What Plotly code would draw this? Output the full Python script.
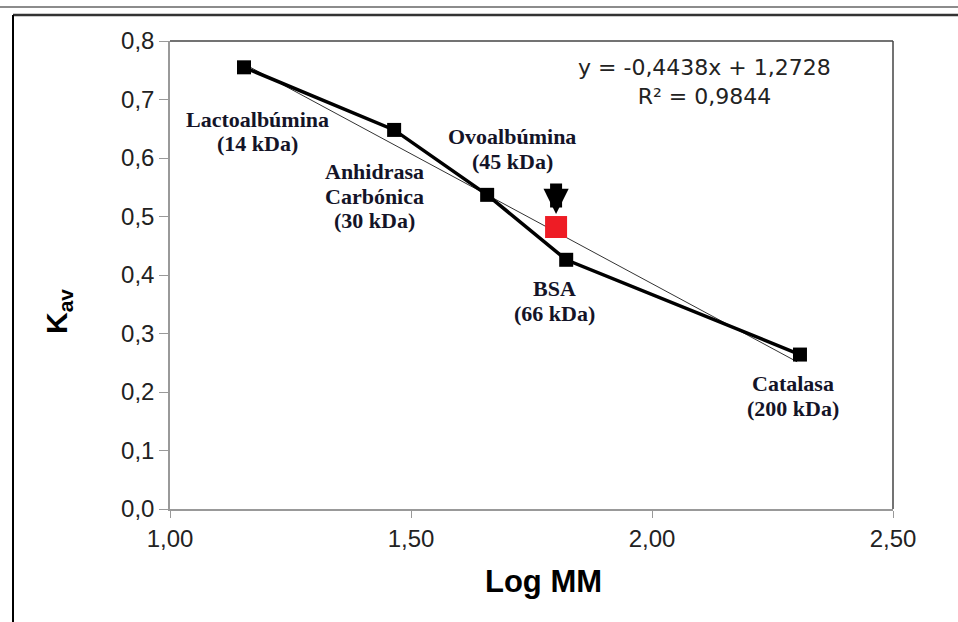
import numpy as np
import plotly.graph_objects as go

# Data
protein_lines = [["Lactoalbúmina", "(14 kDa)"],
                 ["Anhidrasa", "Carbónica", "(30 kDa)"],
                 ["Ovoalbúmina", "(45 kDa)"],
                 ["BSA", "(66 kDa)"],
                 ["Catalasa", "(200 kDa)"]]
log_mm = [1.1535, 1.465, 1.658, 1.822, 2.307]
kav = [0.755, 0.648, 0.537, 0.426, 0.264]
unknown_x = [1.801]
unknown_y = [0.482]
slope = -0.4438
intercept = 1.2728
trend_range = [1.146, 2.301]
x_ticks = [1.0, 1.5, 2.0, 2.5]
x_tick_text = ["1,00", "1,50", "2,00", "2,50"]
y_ticks = [0.0, 0.1, 0.2, 0.3, 0.4, 0.5, 0.6, 0.7, 0.8]
y_tick_text = ["0,0", "0,1", "0,2", "0,3", "0,4", "0,5", "0,6", "0,7", "0,8"]
# label offsets in pixels: (dx, dy of first line below the point)
label_dx = [14, -20, 25, -12, -7]
label_dy = [52, 42, -58, 29, 29]
line_gap = 24.5

fig = go.Figure()

trend_x = np.array(trend_range)
fig.add_trace(go.Scatter(x=trend_x, y=slope * trend_x + intercept, mode="lines",
                         line=dict(color="#333333", width=1), hoverinfo="skip"))
fig.add_trace(go.Scatter(x=log_mm, y=kav, mode="lines+markers",
                         line=dict(color="black", width=3.5),
                         marker=dict(symbol="square", size=14, color="black")))
fig.add_trace(go.Scatter(x=unknown_x, y=unknown_y, mode="markers",
                         marker=dict(symbol="square", size=22, color="#ee1c25")))

label_font = dict(family="Liberation Serif, Times New Roman, serif", size=22, color="#141428")
for lines, x, y, dx, dy in zip(protein_lines, log_mm, kav, label_dx, label_dy):
    for i, line in enumerate(lines):
        fig.add_annotation(x=x, y=y, xref="x", yref="y", text="<b>" + line + "</b>",
                           showarrow=False, xshift=dx, yshift=-(dy + i * line_gap),
                           font=label_font, align="center")

# arrow pointing at unknown
fig.add_annotation(x=unknown_x[0], y=unknown_y[0], xref="x", yref="y", ax=0, ay=-32,
                   yshift=13, showarrow=True, arrowhead=2, arrowsize=0.42, arrowwidth=12,
                   arrowcolor="black", text="")

fig.add_annotation(x=(704 - 170) / 723, y=(509 - 82) / 468, xref="paper", yref="paper",
                   xanchor="center", yanchor="middle",
                   text="y = -0,4438x + 1,2728<br>R² = 0,9844", showarrow=False,
                   font=dict(family="DejaVu Sans, Arial, sans-serif", size=22, color="#222"),
                   align="center")

# axis titles
fig.add_annotation(x=(543 - 170) / 723, y=(509 - 581) / 468, xref="paper", yref="paper",
                   xanchor="center", yanchor="middle",
                   text="<b>Log MM</b>", showarrow=False,
                   font=dict(family="Liberation Sans, Arial, sans-serif", size=31, color="black"))
fig.add_annotation(x=(58 - 170) / 723, y=(509 - 312) / 468, xref="paper", yref="paper",
                   xanchor="center", yanchor="middle",
                   text="<b>K<sub>av</sub></b>", showarrow=False, textangle=-90,
                   font=dict(family="Liberation Sans, Arial, sans-serif", size=30, color="black"))

# plot border top/right (darker)
fig.add_shape(type="line", xref="paper", yref="paper", x0=0, x1=1, y0=1, y1=1,
              line=dict(color="#444", width=1.5))
fig.add_shape(type="line", xref="paper", yref="paper", x0=1, x1=1, y0=0, y1=1,
              line=dict(color="#444", width=1.5))

# outer frame lines
fig.add_shape(type="line", xref="paper", yref="paper", x0=-0.3, x1=1.2, y0=(509 - 7) / 468,
              y1=(509 - 7) / 468, line=dict(color="#666", width=1.5))
fig.add_shape(type="line", xref="paper", yref="paper", x0=(13 - 170) / 723, x1=1.2,
              y0=(509 - 15) / 468, y1=(509 - 15) / 468, line=dict(color="#333", width=2.5))
fig.add_shape(type="line", xref="paper", yref="paper", x0=(13 - 170) / 723, x1=(13 - 170) / 723,
              y0=(509 - 15) / 468, y1=-0.3, line=dict(color="black", width=2))

tick_font = dict(family="Liberation Sans, Arial, sans-serif", size=24, color="#222")
fig.update_layout(
    width=958, height=622, showlegend=False,
    margin=dict(l=170, r=65, t=41, b=113, autoexpand=False),
    paper_bgcolor="white", plot_bgcolor="white",
    xaxis=dict(range=[1.0, 2.5], tickvals=x_ticks, ticktext=x_tick_text, showgrid=False,
               zeroline=False, showline=True, linecolor="#999", linewidth=1.5, ticks="outside",
               ticklen=7, tickcolor="#999", tickfont=tick_font, automargin=False),
    yaxis=dict(range=[0.0, 0.8], tickvals=y_ticks, ticktext=y_tick_text, showgrid=False,
               zeroline=False, showline=True, linecolor="#999", linewidth=1.5, ticks="outside",
               ticklen=9, tickcolor="#999", tickfont=tick_font, automargin=False),
)

fig.write_html("out.html", config={"displayModeBar": False},
               post_script="document.body.style.margin='0';")
